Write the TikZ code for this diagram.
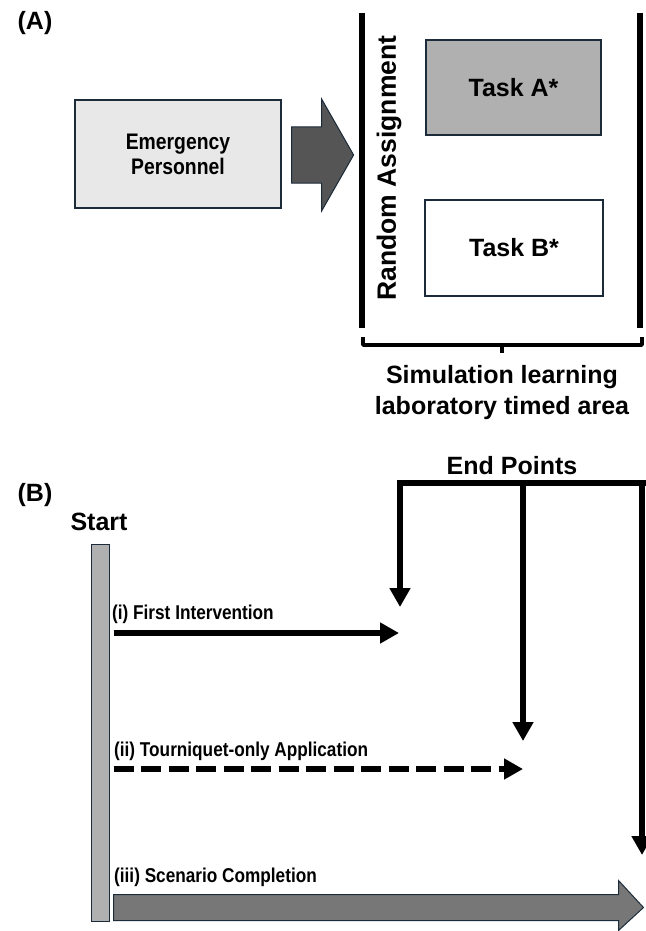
\documentclass[tikz,border=0pt]{standalone}
\usepackage{fontspec}
\setmainfont{Liberation Sans}
\newfontfamily\narrowfont[FakeStretch=0.86]{Liberation Sans}
\usetikzlibrary{arrows.meta,calc}
\definecolor{edgeblue}{HTML}{1C2B39}
\definecolor{paleg}{HTML}{E8E8E8}
\definecolor{midg}{HTML}{B0B0B0}
\definecolor{darkg}{HTML}{555555}
\definecolor{arrg}{HTML}{777777}

\begin{document}
\begin{tikzpicture}[x=1pt,y=-1pt,
  box/.style={draw=edgeblue, line width=1.2pt, inner sep=0pt, align=center, font=\bfseries\fontsize{25}{30}\selectfont},
  big/.style={font=\bfseries\fontsize{25}{31}\selectfont},
  wall/.style={line width=6pt},
  tip/.style={-{Triangle[width=20pt,length=19pt]}},
  lbl/.style={anchor=west, inner sep=0pt, font=\narrowfont\bfseries\fontsize{20}{22}\selectfont}]
\useasboundingbox (0,0) rectangle (645,931);
% (A)
\node [big] (PA) at (35,23) {(A)};
\node [box, fill=paleg, minimum width=206pt, minimum height=108pt, font=\narrowfont\bfseries\fontsize{22.5}{25}\selectfont] (EP) at (178,154) {Emergency\\Personnel};
\draw [draw=edgeblue, fill=darkg, line width=1pt] ($(EP.east)+(10,-27)$) -- ++(30,0) -- ++(0,-28) -- ++(32,56) -- ++(-32,56) -- ++(0,-28) -- ++(-30,0) -- cycle;
\coordinate (L1) at (362,13);
\coordinate (L2) at (362,328);
\coordinate (R1) at (640,13);
\coordinate (R2) at (640,328);
\draw [wall] (L1) -- (L2);
\draw [wall] (R1) -- (R2);
\node [rotate=90, font=\bfseries\fontsize{26.5}{31}\selectfont] (RA) at (389,168) {Random Assignment};
\node [box, fill=midg, minimum width=175pt, minimum height=95pt] (TA) at (513.5,87.5) {Task A*};
\node [box, fill=white, minimum width=178pt, minimum height=96pt] (TB) at (514,248) {Task B*};
\draw [line width=3.5pt, line join=round] (363,337) -- (363,345) -- (642,345) -- (642,337);
\draw [line width=3.5pt] (502,345) -- (502,353);
\node [big, align=center] (SIM) at (502,393) {Simulation learning\\laboratory timed area};
% (B)
\node [big] (PB) at (35,495) {(B)};
\node [big] (EPT) at (512,466) {End Points};
\node [big] (ST) at (99,522) {Start};
\node [draw=edgeblue, fill=midg, line width=1pt, minimum width=18pt, minimum height=377pt, inner sep=0pt] (SB) at (100,732.5) {};
\coordinate (Z) at (650,483);
\coordinate (H) at (400,483);
\coordinate (K) at (523,483);
\coordinate (J) at (642,483);
\coordinate (D1) at (400,607);
\coordinate (D2) at (523,741);
\coordinate (D3) at (642,855);
\draw [wall, tip] (Z) -- (H) -- (D1);
\draw [wall, tip] (K) -- (D2);
\draw [wall, tip] (J) -- (D3);
\coordinate (I1) at (399,633);
\coordinate (I2) at (523,769);
\draw [wall, tip] ($(SB.east |- I1)+(4,0)$) -- (I1);
\draw [wall, tip, dash pattern=on 20pt off 7.5pt] ($(SB.east |- I2)+(4,0)$) -- (I2);
\draw [draw=edgeblue, fill=arrg, line width=1pt] ($(SB.south east)+(4,-1)$) -- ++(505,0) -- ++(0,10) -- ++(25,-23) -- ++(-25,-27) -- ++(0,14) -- ++(-505,0) -- cycle;
\node [lbl] (T1) at (112,614) {(i) First Intervention};
\node [lbl] (T2) at (114,751) {(ii) Tourniquet-only Application};
\node [lbl] (T3) at (114,877) {(iii) Scenario Completion};
\end{tikzpicture}
\end{document}
